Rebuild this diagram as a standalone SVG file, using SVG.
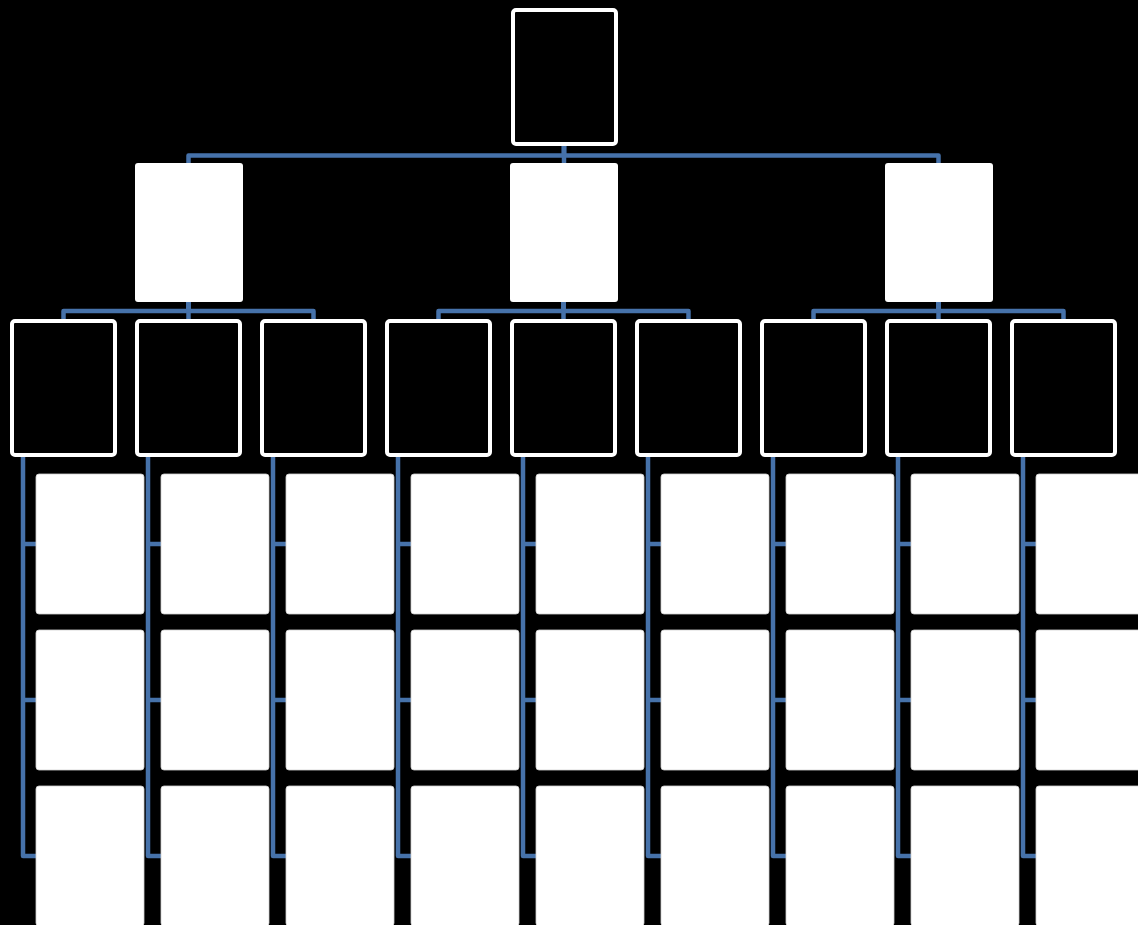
<svg xmlns="http://www.w3.org/2000/svg" width="1138" height="925" viewBox="0 0 1138 925">
<style>
.bg{fill:#000}
.outl{fill:#000;stroke:#fff;stroke-width:4}
.fill{fill:#fff}
.leaf{fill:#fff;stroke:#d0d0d0;stroke-width:0.8}
.con{fill:none;stroke:#4672AA;stroke-width:4.5;stroke-linejoin:round}
</style>
<rect class="bg" x="0" y="0" width="1138" height="925"/>
<g id="connectors">
<path class="con" d="M564,146 V155.5 H188.5 V164"/>
<path class="con" d="M564,146 V164"/>
<path class="con" d="M564,146 V155.5 H938.5 V164"/>
<path class="con" d="M188.5,301 V311 H63.5 V321"/>
<path class="con" d="M188.5,301 V321"/>
<path class="con" d="M188.5,301 V311 H313.5 V321"/>
<path class="con" d="M563.5,301 V311 H438.5 V321"/>
<path class="con" d="M563.5,301 V321"/>
<path class="con" d="M563.5,301 V311 H688.5 V321"/>
<path class="con" d="M938.5,301 V311 H813.5 V321"/>
<path class="con" d="M938.5,301 V321"/>
<path class="con" d="M938.5,301 V311 H1063.5 V321"/>
<path class="con" d="M23,456 V856 H37 M23,544 H37 M23,700 H37"/>
<path class="con" d="M148,456 V856 H162 M148,544 H162 M148,700 H162"/>
<path class="con" d="M273,456 V856 H287 M273,544 H287 M273,700 H287"/>
<path class="con" d="M398,456 V856 H412 M398,544 H412 M398,700 H412"/>
<path class="con" d="M523,456 V856 H537 M523,544 H537 M523,700 H537"/>
<path class="con" d="M648,456 V856 H662 M648,544 H662 M648,700 H662"/>
<path class="con" d="M773,456 V856 H787 M773,544 H787 M773,700 H787"/>
<path class="con" d="M898,456 V856 H912 M898,544 H912 M898,700 H912"/>
<path class="con" d="M1023,456 V856 H1037 M1023,544 H1037 M1023,700 H1037"/>
</g>
<g id="root"><rect class="outl" x="513" y="10" width="103" height="134" rx="3"/></g>
<g id="l2-1"><rect class="fill" x="135" y="163" width="108" height="139" rx="3"/></g>
<g id="l2-2"><rect class="fill" x="510" y="163" width="108" height="139" rx="3"/></g>
<g id="l2-3"><rect class="fill" x="885" y="163" width="108" height="139" rx="3"/></g>
<g id="l3-1"><rect class="outl" x="12" y="321" width="103" height="134" rx="3"/></g>
<g id="l3-2"><rect class="outl" x="137" y="321" width="103" height="134" rx="3"/></g>
<g id="l3-3"><rect class="outl" x="262" y="321" width="103" height="134" rx="3"/></g>
<g id="l3-4"><rect class="outl" x="387" y="321" width="103" height="134" rx="3"/></g>
<g id="l3-5"><rect class="outl" x="512" y="321" width="103" height="134" rx="3"/></g>
<g id="l3-6"><rect class="outl" x="637" y="321" width="103" height="134" rx="3"/></g>
<g id="l3-7"><rect class="outl" x="762" y="321" width="103" height="134" rx="3"/></g>
<g id="l3-8"><rect class="outl" x="887" y="321" width="103" height="134" rx="3"/></g>
<g id="l3-9"><rect class="outl" x="1012" y="321" width="103" height="134" rx="3"/></g>
<g id="leaf-1-1"><rect class="leaf" x="36" y="474" width="108" height="140" rx="3"/></g>
<g id="leaf-1-2"><rect class="leaf" x="36" y="630" width="108" height="140" rx="3"/></g>
<g id="leaf-1-3"><rect class="leaf" x="36" y="786" width="108" height="140" rx="3"/></g>
<g id="leaf-2-1"><rect class="leaf" x="161" y="474" width="108" height="140" rx="3"/></g>
<g id="leaf-2-2"><rect class="leaf" x="161" y="630" width="108" height="140" rx="3"/></g>
<g id="leaf-2-3"><rect class="leaf" x="161" y="786" width="108" height="140" rx="3"/></g>
<g id="leaf-3-1"><rect class="leaf" x="286" y="474" width="108" height="140" rx="3"/></g>
<g id="leaf-3-2"><rect class="leaf" x="286" y="630" width="108" height="140" rx="3"/></g>
<g id="leaf-3-3"><rect class="leaf" x="286" y="786" width="108" height="140" rx="3"/></g>
<g id="leaf-4-1"><rect class="leaf" x="411" y="474" width="108" height="140" rx="3"/></g>
<g id="leaf-4-2"><rect class="leaf" x="411" y="630" width="108" height="140" rx="3"/></g>
<g id="leaf-4-3"><rect class="leaf" x="411" y="786" width="108" height="140" rx="3"/></g>
<g id="leaf-5-1"><rect class="leaf" x="536" y="474" width="108" height="140" rx="3"/></g>
<g id="leaf-5-2"><rect class="leaf" x="536" y="630" width="108" height="140" rx="3"/></g>
<g id="leaf-5-3"><rect class="leaf" x="536" y="786" width="108" height="140" rx="3"/></g>
<g id="leaf-6-1"><rect class="leaf" x="661" y="474" width="108" height="140" rx="3"/></g>
<g id="leaf-6-2"><rect class="leaf" x="661" y="630" width="108" height="140" rx="3"/></g>
<g id="leaf-6-3"><rect class="leaf" x="661" y="786" width="108" height="140" rx="3"/></g>
<g id="leaf-7-1"><rect class="leaf" x="786" y="474" width="108" height="140" rx="3"/></g>
<g id="leaf-7-2"><rect class="leaf" x="786" y="630" width="108" height="140" rx="3"/></g>
<g id="leaf-7-3"><rect class="leaf" x="786" y="786" width="108" height="140" rx="3"/></g>
<g id="leaf-8-1"><rect class="leaf" x="911" y="474" width="108" height="140" rx="3"/></g>
<g id="leaf-8-2"><rect class="leaf" x="911" y="630" width="108" height="140" rx="3"/></g>
<g id="leaf-8-3"><rect class="leaf" x="911" y="786" width="108" height="140" rx="3"/></g>
<g id="leaf-9-1"><rect class="leaf" x="1036" y="474" width="108" height="140" rx="3"/></g>
<g id="leaf-9-2"><rect class="leaf" x="1036" y="630" width="108" height="140" rx="3"/></g>
<g id="leaf-9-3"><rect class="leaf" x="1036" y="786" width="108" height="140" rx="3"/></g>
</svg>
